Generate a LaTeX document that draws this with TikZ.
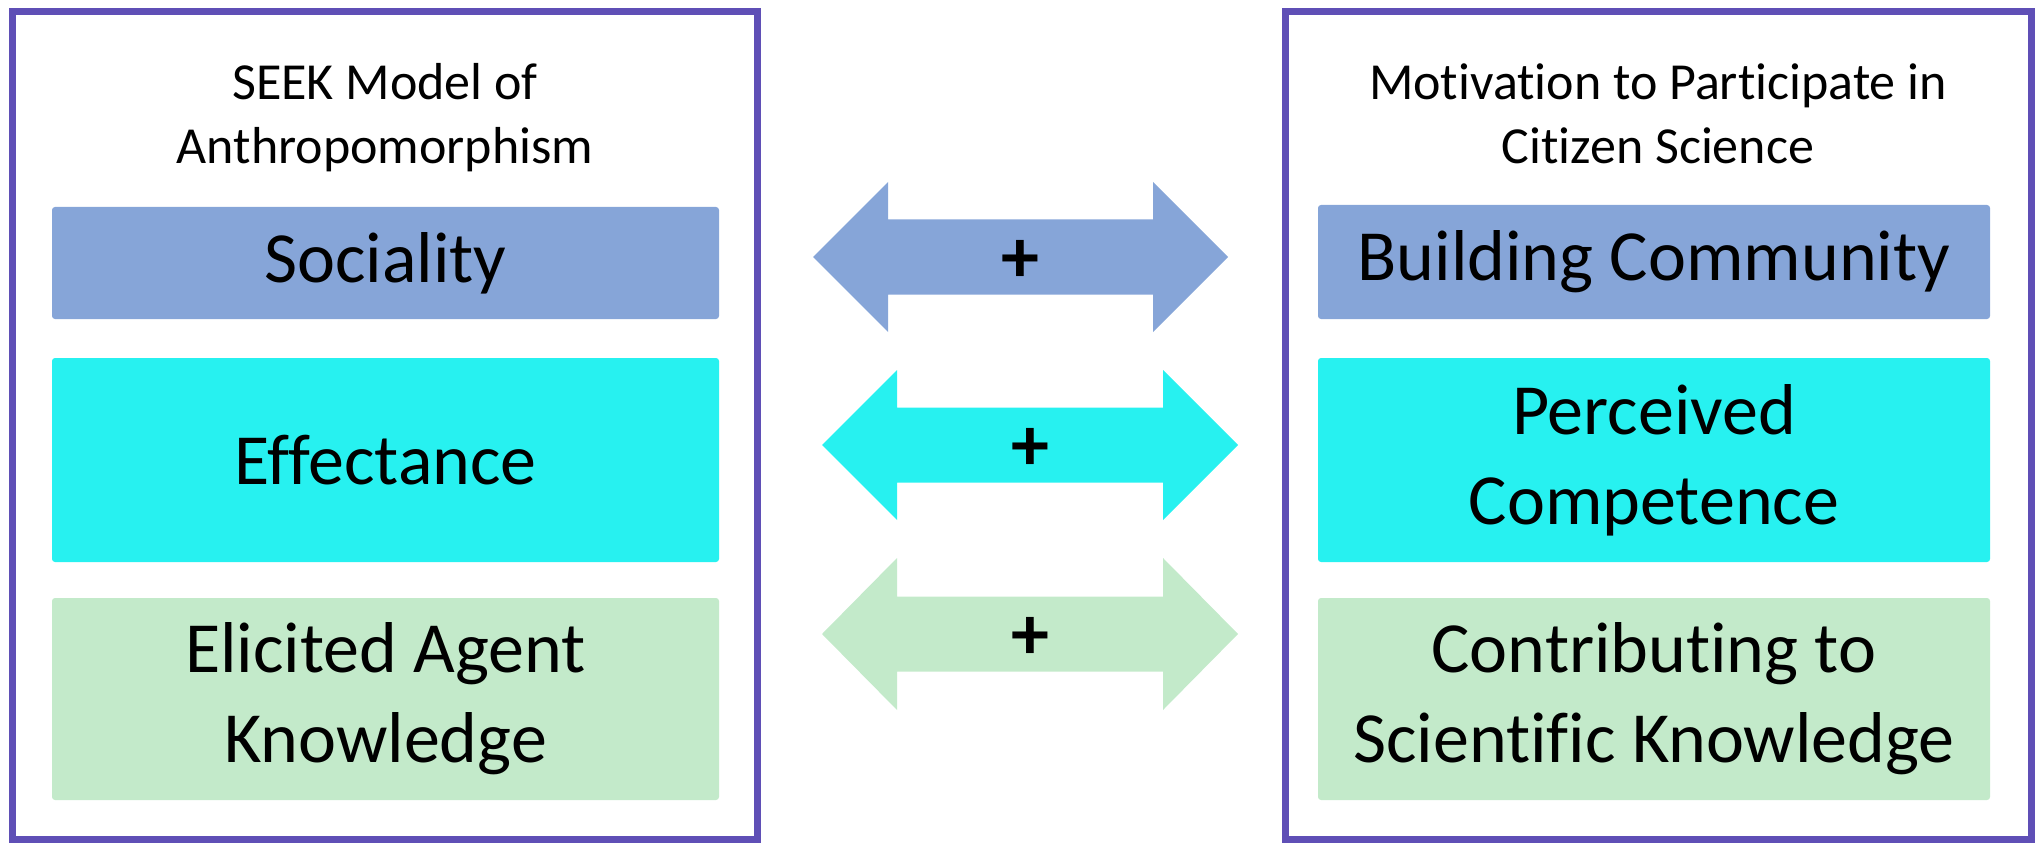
\documentclass[tikz,border=0pt]{standalone}
\usepackage{fontspec}
\setmainfont{Carlito}[Ligatures=NoCommon]
\definecolor{framec}{HTML}{5F4FB6}
\definecolor{socc}{HTML}{86A5D8}
\definecolor{effc}{HTML}{27F1F0}
\definecolor{knowc}{HTML}{C3EACA}
\begin{document}
\begin{tikzpicture}[x=0.5pt,y=-0.5pt,
  frame/.style={draw=framec, line width=3.5pt},
  inbox/.style={rounded corners=1.5pt, inner sep=0pt, align=center,
    font=\fontsize{36}{45}\selectfont},
  leftbox/.style={inbox, minimum width=333.5pt},
  rightbox/.style={inbox, minimum width=336pt},
  titlef/.style={align=center, inner sep=0pt, font=\fontsize{26}{32}\selectfont},
  plusf/.style={inner sep=0pt, font=\fontsize{38}{50}\selectfont\bfseries}
]
\useasboundingbox (0,0) rectangle (2039,850);
% frames
\draw[frame] (12,12) rectangle (757,839);
\draw[frame] (1285,12) rectangle (2031,839);
% titles
\node[titlef, anchor=base] (ltitle) at (385,164) {SEEK Model of\\Anthropomorphism};
\node[titlef, anchor=base] (rtitle) at (1658,164) {Motivation to Participate in\\Citizen Science};
% left boxes
\node[leftbox, fill=socc, minimum height=56pt] (soc) at (385.5,263) {Sociality};
\node[leftbox, fill=effc, minimum height=102pt] (eff) at (385.5,460) {Effectance};
\node[leftbox, fill=knowc, minimum height=101pt] (eak) at (385.5,699) {Elicited Agent\\Knowledge};
% right boxes
\node[rightbox, fill=socc, minimum height=57pt] (bc) at (1654,262) {Building Community};
\node[rightbox, fill=effc, minimum height=102pt] (pc) at (1654,460) {Perceived\\Competence};
\node[rightbox, fill=knowc, minimum height=101pt] (csk) at (1654,699) {Contributing to\\Scientific Knowledge};
% double arrows
\fill[socc] (813,257) -- (888,182) -- (888,219.5) -- (1153,219.5) -- (1153,182) -- (1228,257)
  -- (1153,332) -- (1153,294.5) -- (888,294.5) -- (888,332) -- cycle;
\fill[effc] (822,445) -- (897,370) -- (897,407.5) -- (1163,407.5) -- (1163,370) -- (1238,445)
  -- (1163,520) -- (1163,482.5) -- (897,482.5) -- (897,520) -- cycle;
\fill[knowc] (822,634) -- (897,558) -- (897,596.5) -- (1163,596.5) -- (1163,558) -- (1238,634)
  -- (1163,710) -- (1163,671.5) -- (897,671.5) -- (897,710) -- cycle;
% plus signs
\node[plusf] (p1) at (1020,261) {+};
\node[plusf] (p2) at (1030,449) {+};
\node[plusf] (p3) at (1030,638) {+};
\end{tikzpicture}
\end{document}
